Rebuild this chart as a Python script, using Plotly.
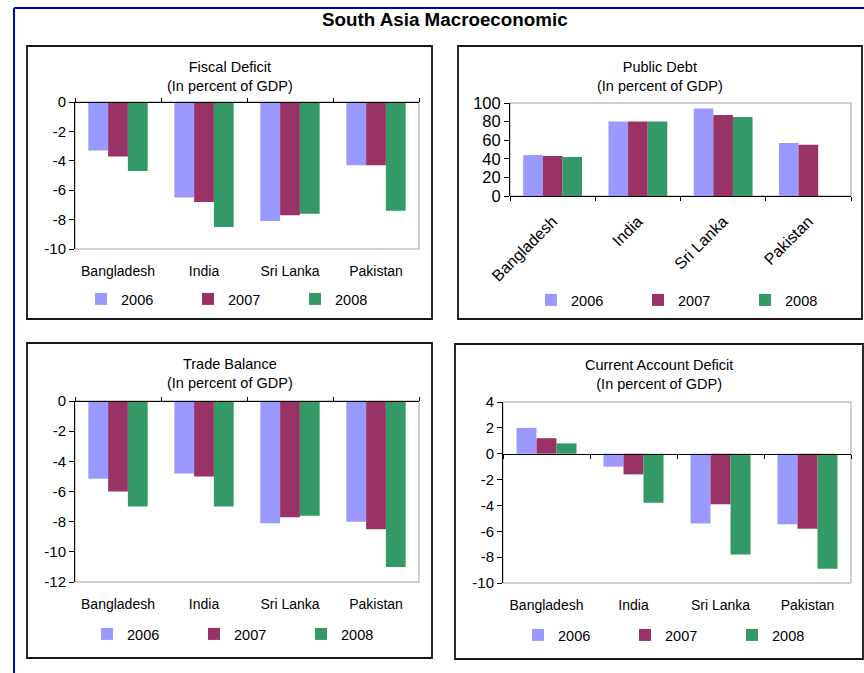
import plotly.graph_objects as go

W, H = 864, 673

# ---- data -------------------------------------------------------------
countries = ["Bangladesh", "India", "Sri Lanka", "Pakistan"]
years = ["2006", "2007", "2008"]

fiscal_2006 = [-3.3, -6.5, -8.1, -4.3]
fiscal_2007 = [-3.7, -6.8, -7.7, -4.3]
fiscal_2008 = [-4.7, -8.5, -7.6, -7.4]

debt_2006 = [44, 80, 94, 57]
debt_2007 = [43, 80, 87, 55]
debt_2008 = [42, 80, 85, None]

trade_2006 = [-5.15, -4.8, -8.1, -8.0]
trade_2007 = [-6.0, -5.0, -7.7, -8.5]
trade_2008 = [-7.0, -7.0, -7.6, -11.0]

ca_2006 = [2.0, -1.0, -5.4, -5.45]
ca_2007 = [1.2, -1.6, -3.9, -5.8]
ca_2008 = [0.8, -3.8, -7.8, -8.9]

fiscal_ticks = [0, -2, -4, -6, -8, -10]
debt_ticks = [0, 20, 40, 60, 80, 100]
trade_ticks = [0, -2, -4, -6, -8, -10, -12]
ca_ticks = [4, 2, 0, -2, -4, -6, -8, -10]

# ---- styling / layout config -----------------------------------------
colors = ["#9999FF", "#993366", "#339966"]
FONT = "Liberation Sans, Arial, sans-serif"

panels = [
    dict(title="Fiscal Deficit", series=[fiscal_2006, fiscal_2007, fiscal_2008],
         ticks=fiscal_ticks, yrange=[-10, 0], box=(27, 46, 432, 319),
         plot=(75, 102, 419, 249), title_y=76, legend_x=81, legend_y=299,
         tickangle=0, standoff=12, ytick_size=15),
    dict(title="Public Debt", series=[debt_2006, debt_2007, debt_2008],
         ticks=debt_ticks, yrange=[0, 100], box=(458, 46, 862, 319),
         plot=(510, 103, 851, 196), title_y=76, legend_x=531, legend_y=300,
         tickangle=-45, standoff=12, ytick_size=16.5),
    dict(title="Trade Balance", series=[trade_2006, trade_2007, trade_2008],
         ticks=trade_ticks, yrange=[-12, 0], box=(27, 343, 432, 658),
         plot=(75, 401, 419, 582), title_y=373, legend_x=87, legend_y=634,
         tickangle=0, standoff=12, ytick_size=15),
    dict(title="Current Account Deficit", series=[ca_2006, ca_2007, ca_2008],
         ticks=ca_ticks, yrange=[-10, 4], box=(455, 344, 863, 659),
         plot=(503, 402, 851, 583), title_y=374, legend_x=518, legend_y=635,
         tickangle=0, standoff=12, ytick_size=15),
]


def fx(px):
    return px / W


def fy(py):
    return 1 - py / H


fig = go.Figure()
layout = dict(
    width=W, height=H, autosize=False,
    margin=dict(l=0, r=0, t=0, b=0, pad=0, autoexpand=False),
    paper_bgcolor="white", plot_bgcolor="white",
    font=dict(family=FONT, color="black", size=14),
    barmode="group", bargap=0.31, bargroupgap=0,
    showlegend=True,
)
shapes = []
annotations = []

for i, p in enumerate(panels, start=1):
    xa = "x" if i == 1 else f"x{i}"
    ya = "y" if i == 1 else f"y{i}"
    xo = f"x{i + 4}"
    leg = "legend" if i == 1 else f"legend{i}"
    l, t, r, b = p["plot"]
    lo, hi = p["yrange"]

    for j, yr in enumerate(years):
        fig.add_trace(go.Bar(
            x=countries, y=p["series"][j], name=yr,
            marker=dict(color=colors[j], line=dict(width=0)),
            xaxis=xa, yaxis=ya, legend=leg, hoverinfo="skip",
        ))
    # carrier for the category axis drawn along the zero line
    fig.add_trace(go.Scatter(
        x=countries, y=[None] * len(countries), mode="markers",
        xaxis=xo, yaxis=ya, showlegend=False, hoverinfo="skip",
    ))

    xkey = "xaxis" if i == 1 else f"xaxis{i}"
    ykey = "yaxis" if i == 1 else f"yaxis{i}"
    layout[xkey] = dict(
        domain=[fx(l), fx(r)], anchor=ya, type="category",
        categoryorder="array", categoryarray=countries, range=[-0.5, 3.5],
        showline=False, ticks="", showgrid=False, zeroline=False,
        tickangle=p["tickangle"], ticklabelstandoff=p["standoff"],
        tickfont=dict(size=16 if p["tickangle"] else 14),
        automargin=False, fixedrange=True,
    )
    layout[ykey] = dict(
        domain=[fy(b), fy(t)], anchor=xa, range=[lo, hi],
        tickvals=p["ticks"], ticktext=[str(v) for v in p["ticks"]],
        showline=True, linecolor="black", linewidth=1,
        ticks="outside", ticklen=5, tickcolor="black", tickwidth=1,
        showgrid=False, zeroline=False,
        tickfont=dict(size=p["ytick_size"]), automargin=False,
        fixedrange=True,
    )
    zero_pos = fy(b) + (0 - lo) / (hi - lo) * (fy(t) - fy(b))
    layout[f"xaxis{i + 4}"] = dict(
        overlaying=xa, anchor="free", position=zero_pos,
        side="top" if hi == 0 else "bottom",
        type="category", categoryorder="array", categoryarray=countries,
        range=[-0.5, 3.5], tickson="boundaries", ticks="outside",
        ticklen=4, tickcolor="black", showline=True, linecolor="black",
        linewidth=1, showticklabels=False, showgrid=False, zeroline=False,
        automargin=False, fixedrange=True,
    )
    layout[leg] = dict(
        orientation="h", x=fx(p["legend_x"]), y=fy(p["legend_y"]),
        xanchor="left", yanchor="middle", font=dict(size=14.5),
        entrywidth=62, entrywidthmode="pixels", traceorder="normal",
        bgcolor="rgba(0,0,0,0)", borderwidth=0,
    )

    # gray plot-area frame
    shapes.append(dict(type="rect", xref=f"{xa} domain", yref=f"{ya} domain",
                       x0=0, x1=1, y0=0, y1=1, layer="below",
                       line=dict(color="#A0A0A0", width=1)))
    # panel box
    bl, bt, br, bb = p["box"]
    shapes.append(dict(type="rect", xref="paper", yref="paper",
                       x0=fx(bl), x1=fx(br), y0=fy(bb), y1=fy(bt),
                       line=dict(color="#151515", width=1.8)))
    annotations.append(dict(
        text=f"{p['title']}<br>(In percent of GDP)", xref="paper", yref="paper",
        x=fx((bl + br) / 2), y=fy(p["title_y"]), xanchor="center",
        yanchor="middle", showarrow=False, font=dict(size=14.5),
    ))

# blue outer frame
shapes.append(dict(type="line", xref="paper", yref="paper",
                   x0=fx(14), x1=fx(870), y0=fy(8), y1=fy(8),
                   line=dict(color="#0000C8", width=2)))
shapes.append(dict(type="line", xref="paper", yref="paper",
                   x0=fx(14), x1=fx(14), y0=fy(8), y1=fy(680),
                   line=dict(color="#0000C8", width=2)))

annotations.append(dict(
    text="<b>South Asia Macroeconomic</b>", xref="paper", yref="paper",
    x=fx(445), y=fy(19), xanchor="center", yanchor="middle",
    showarrow=False, font=dict(size=18.8),
))
annotations.append(dict(
    text="<b>Figure 1: South Asia Macroeconomic Indicators</b>",
    xref="paper", yref="paper", x=fx(18), y=fy(-9), xanchor="left",
    yanchor="middle", showarrow=False, font=dict(size=15),
))

layout["shapes"] = shapes
layout["annotations"] = annotations
fig.update_layout(**layout)

fig.write_html(
    "out.html",
    config=dict(displayModeBar=False, staticPlot=True),
    post_script="document.body.style.margin='0';"
                "document.body.style.overflow='hidden';",
)
